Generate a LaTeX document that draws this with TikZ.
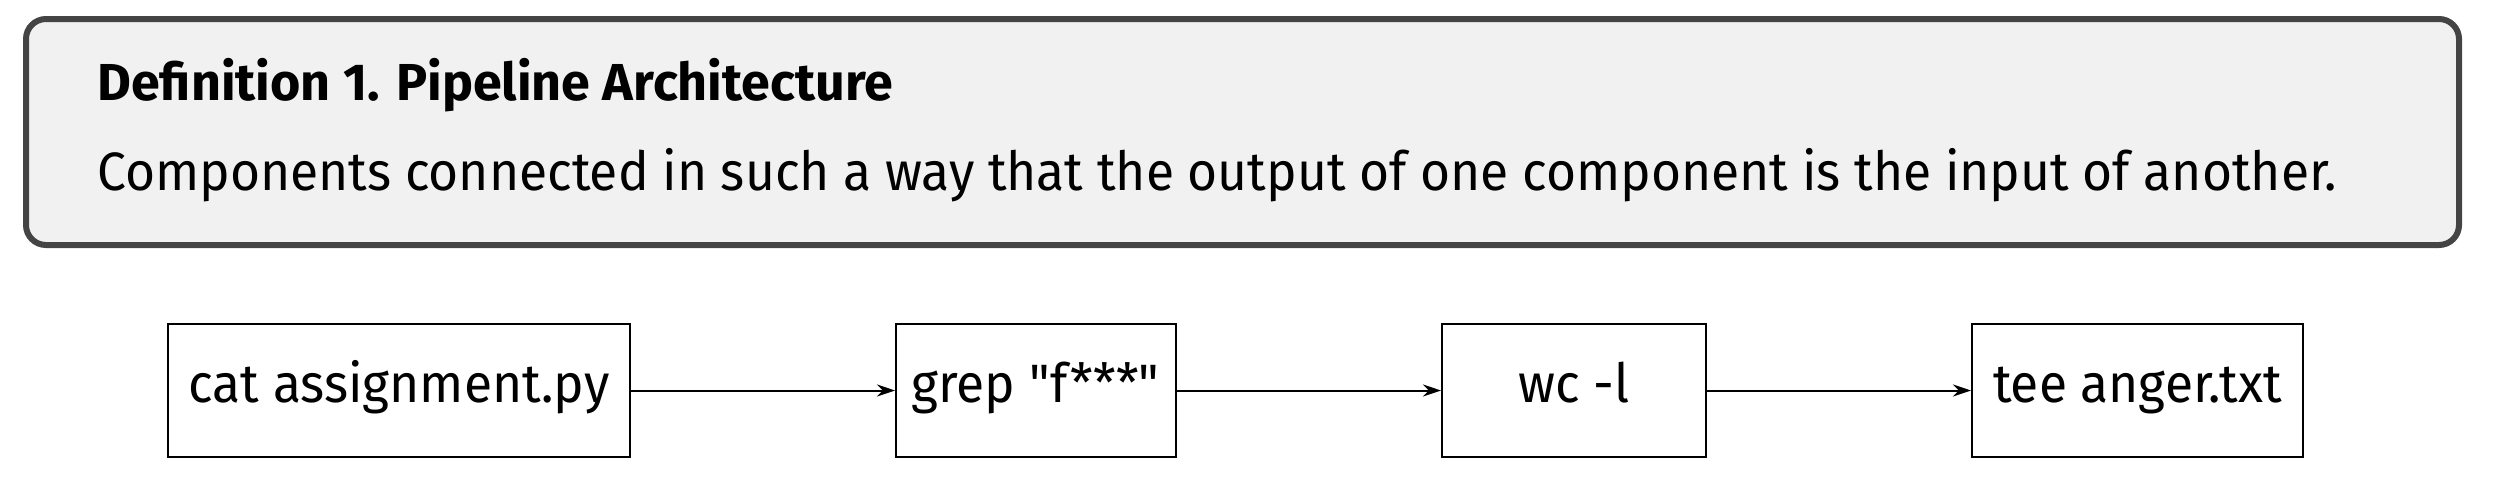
\documentclass[tikz,border=0pt]{standalone}
\usepackage{fontspec}
\setmainfont{Fira Sans}
\newfontfamily\narrowfont{Fira Sans}[FakeStretch=0.955]
\usetikzlibrary{arrows.meta}
\definecolor{framegray}{HTML}{444444}
\definecolor{boxfill}{HTML}{F1F1F1}
\tikzset{
  defbox/.style={draw=framegray, line width=3pt, fill=boxfill, rounded corners=10pt, inner sep=0pt},
  cmdbox/.style={draw=black, line width=1pt, fill=white, inner sep=0pt, minimum height=66.5pt,
    font=\narrowfont\fontsize{27pt}{32pt}\selectfont, text height=20pt, text depth=8.5pt},
  arr/.style={draw=black, line width=1pt, -{Stealth[length=9pt,width=6pt]}},
  deftitle/.style={anchor=base west, inner sep=0pt, font=\fontsize{26pt}{31pt}\selectfont\bfseries},
  defbody/.style={anchor=base west, inner sep=0pt, font=\narrowfont\fontsize{27pt}{32pt}\selectfont}
}
\begin{document}
\begin{tikzpicture}[x=0.5pt, y=-0.5pt]
\useasboundingbox (0,0) rectangle (2494,478);
\node[defbox, minimum width=1216.5pt, minimum height=113pt] (def) at (1242.5,132) {};
\node[deftitle] (title) at (97,100) {Definition 1. Pipeline Architecture};
\node[defbody] (body) at (97,190) {Components connected in such a way that the output of one component is the input of another.};
\node[cmdbox, minimum width=231pt] (b1) at (399,390.5) {cat assignment.py};
\node[cmdbox, minimum width=140pt] (b2) at (1036,390.5) {grep \textquotedbl f***\textquotedbl};
\node[cmdbox, minimum width=132pt] (b3) at (1574,390.5) {wc -l};
\node[cmdbox, minimum width=165.5pt] (b4) at (2137.5,390.5) {tee anger.txt};
\draw[arr] (b1.east) -- (b2.west);
\draw[arr] (b2.east) -- (b3.west);
\draw[arr] (b3.east) -- (b4.west);
\end{tikzpicture}
\end{document}
